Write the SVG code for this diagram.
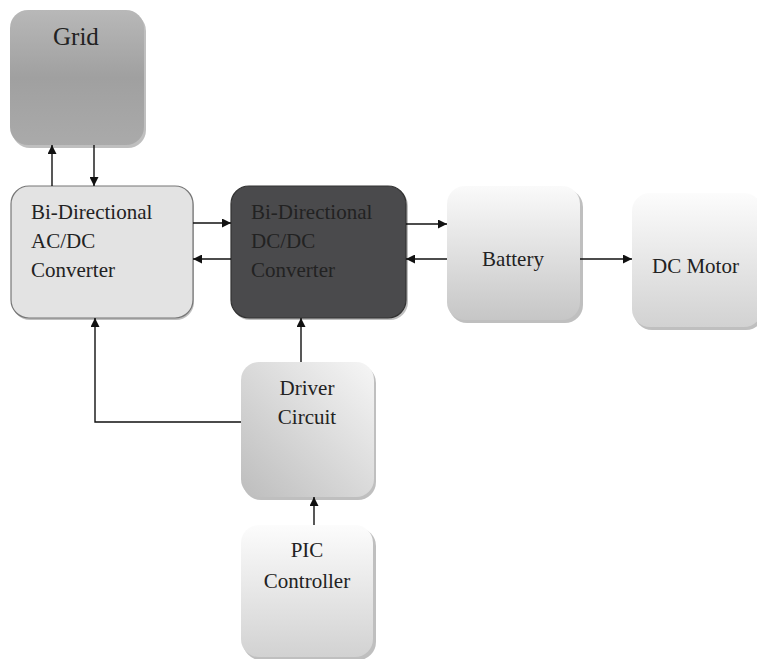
<svg xmlns="http://www.w3.org/2000/svg" width="757" height="659" viewBox="0 0 757 659">
<defs>
<linearGradient id="gGrid" x1="0" y1="0" x2="0" y2="1"><stop offset="0" stop-color="#b8b8b8"/><stop offset="0.5" stop-color="#a0a0a0"/><stop offset="1" stop-color="#aaaaaa"/></linearGradient>
<linearGradient id="gV" x1="0" y1="0" x2="0" y2="1"><stop offset="0" stop-color="#fafafa"/><stop offset="1" stop-color="#c6c6c6"/></linearGradient>
<linearGradient id="gVl" x1="0" y1="0" x2="0" y2="1"><stop offset="0" stop-color="#fcfcfc"/><stop offset="1" stop-color="#d2d2d2"/></linearGradient>
<linearGradient id="gD" x1="1" y1="0" x2="0" y2="1"><stop offset="0" stop-color="#f6f6f6"/><stop offset="1" stop-color="#bdbdbd"/></linearGradient>
<marker id="ah" viewBox="0 0 10 10" refX="10" refY="5" markerWidth="9" markerHeight="9" markerUnits="userSpaceOnUse" orient="auto"><path d="M0,0 L10,5 L0,10 z" fill="#111"/></marker>
</defs>
<style>
.sh{fill:#8a8a8a;opacity:0.55}
.c{stroke:#111;stroke-width:1.4;fill:none;marker-end:url(#ah)}
</style>
<rect width="757" height="659" fill="#ffffff"/>
<g font-family="'Liberation Serif', 'Times New Roman', serif" font-size="21" fill="#222">
<g id="grid">
<rect class="sh" x="12" y="13" width="134" height="135" rx="18"/>
<rect x="10" y="10" width="134" height="135" rx="18" fill="url(#gGrid)"/>
<text x="53" y="45" font-size="25">Grid</text>
</g>
<g id="acdc">
<rect class="sh" x="12" y="188" width="182" height="132" rx="18"/>
<rect x="11" y="186" width="182" height="132" rx="18" fill="#e3e3e3" stroke="#777" stroke-width="1.2"/>
<text x="31" y="219">Bi-Directional</text>
<text x="31" y="248">AC/DC</text>
<text x="31" y="277">Converter</text>
</g>
<g id="dcdc">
<rect class="sh" x="232" y="188" width="176" height="132" rx="18"/>
<rect x="231" y="186" width="175" height="132" rx="18" fill="#4a4a4c" stroke="#333" stroke-width="1.2"/>
<text x="251" y="219">Bi-Directional</text>
<text x="251" y="248">DC/DC</text>
<text x="251" y="277">Converter</text>
</g>
<g id="battery">
<rect class="sh" x="449" y="189" width="134" height="134" rx="18"/>
<rect x="447" y="186" width="133" height="134" rx="18" fill="url(#gV)"/>
<text x="513" y="266" text-anchor="middle">Battery</text>
</g>
<g id="motor">
<rect class="sh" x="634" y="196" width="130" height="134" rx="18"/>
<rect x="632" y="193" width="130" height="134" rx="18" fill="url(#gVl)"/>
<text x="652" y="273">DC Motor</text>
</g>
<g id="driver">
<rect class="sh" x="243" y="365" width="133" height="135" rx="18"/>
<rect x="241" y="362" width="133" height="135" rx="18" fill="url(#gD)"/>
<text x="307" y="395" text-anchor="middle">Driver</text>
<text x="307" y="424" text-anchor="middle">Circuit</text>
</g>
<g id="pic">
<rect class="sh" x="243" y="528" width="133" height="132" rx="18"/>
<rect x="241" y="525" width="132" height="132" rx="18" fill="url(#gVl)"/>
<text x="307" y="557" text-anchor="middle">PIC</text>
<text x="307" y="588" text-anchor="middle">Controller</text>
</g>
</g>
<g id="connectors">
<line class="c" x1="52" y1="186" x2="52" y2="145"/>
<line class="c" x1="94" y1="145" x2="94" y2="186"/>
<line class="c" x1="193" y1="223" x2="231" y2="223"/>
<line class="c" x1="231" y1="259" x2="193" y2="259"/>
<line class="c" x1="406" y1="224" x2="447" y2="224"/>
<line class="c" x1="447" y1="259" x2="406" y2="259"/>
<line class="c" x1="580" y1="259" x2="632" y2="259"/>
<line class="c" x1="301" y1="362" x2="301" y2="318"/>
<polyline class="c" points="241,422 95,422 95,318"/>
<line class="c" x1="314" y1="525" x2="314" y2="497"/>
</g>
</svg>
